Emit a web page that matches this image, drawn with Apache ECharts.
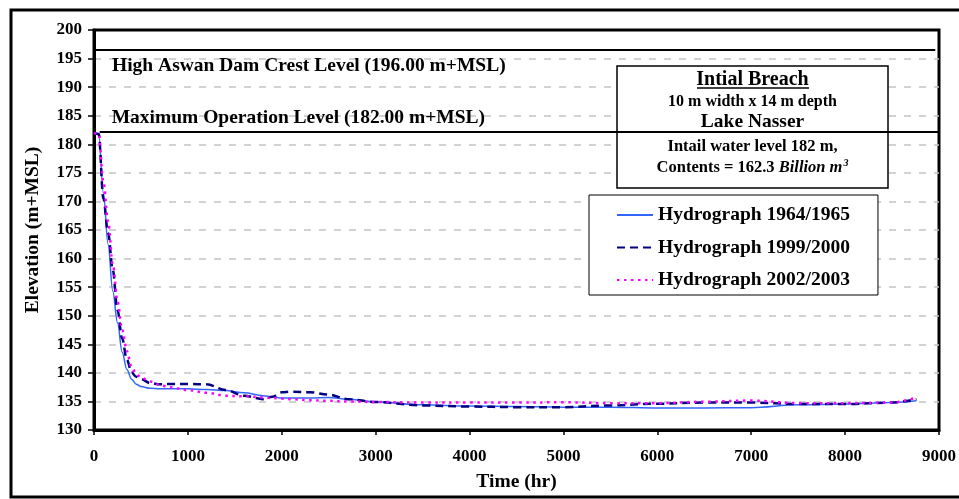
<!DOCTYPE html>
<html>
<head>
    <meta charset="utf-8">
    <script src="https://cdn.jsdelivr.net/npm/echarts@6/dist/echarts.min.js"></script>
    <style>
        html, body { margin: 0; padding: 0; background: #fff; }
    </style>
</head>
<body>
    <div id="chart" style="width: 959px;height:499px;"></div>
    <script type="text/javascript">
        // time axis (hr), shared by the three hydrographs
        var hours = [0, 50, 100, 150, 200, 250, 300, 350, 400, 450, 500, 600, 700, 800, 1000, 1200, 1400, 1600, 1800, 1900, 2000, 2100, 2300, 2500, 2700, 3000, 3500, 4000, 4500, 5000, 5500, 6000, 6500, 7000, 7500, 8000, 8500, 8760];
        var elev6465 = [182, 181.8, 171.5, 162.5, 154.3, 148.8, 143.6, 140.6, 138.9, 138.0, 137.6, 137.3, 137.2, 137.2, 137.2, 137.1, 136.9, 136.5, 136.0, 135.8, 135.6, 135.6, 135.6, 135.7, 135.4, 134.9, 134.4, 134.2, 134.1, 134.0, 134.0, 133.85, 133.85, 133.9, 134.4, 134.55, 134.8, 135.1];
        var elev9900 = [182, 181.8, 170.5, 164.5, 158.0, 151.0, 146.0, 142.3, 140.1, 139.3, 138.9, 138.2, 138.0, 138.05, 138.05, 138.0, 137.0, 136.0, 135.4, 135.8, 136.6, 136.7, 136.6, 136.2, 135.4, 134.9, 134.3, 134.1, 134.0, 134.0, 134.3, 134.6, 134.8, 134.8, 134.55, 134.55, 134.8, 135.4];
        var elev0203 = [182, 181.8, 173.5, 166.5, 159.0, 152.5, 147.5, 143.8, 141.0, 139.8, 139.2, 138.5, 137.9, 137.5, 137.0, 136.5, 136.0, 135.9, 135.7, 135.6, 135.5, 135.4, 135.2, 135.1, 135.0, 134.9, 134.8, 134.8, 134.8, 134.85, 134.7, 134.7, 134.95, 135.15, 134.7, 134.7, 134.8, 135.7];
        var seriesNames = ['Hydrograph 1964/1965', 'Hydrograph 1999/2000', 'Hydrograph 2002/2003'];
        var crestLevel = 196.5;
        var operationLevel = 182.2;

        var FONT = '"Liberation Serif", "Times New Roman", serif';

        function pairs(vals) {
            var out = [];
            for (var i = 0; i < hours.length; i++) {
                out.push([hours[i], vals[i]]);
            }
            return out;
        }

        var refLabel = { show: true, fontFamily: FONT, fontWeight: 'bold', fontSize: 19.5, color: '#000' };

        var myChart = echarts.init(document.getElementById('chart'));
        var option = {
            animation: false,
            backgroundColor: '#fff',
            grid: {
                left: 94, right: 19, top: 30, bottom: 69,
                show: true, borderColor: '#000', borderWidth: 3, backgroundColor: 'transparent'
            },
            legend: {
                orient: 'vertical',
                left: 589, top: 195,
                padding: [10, 28, 5, 27],
                itemGap: 12.5,
                itemWidth: 36, itemHeight: 14,
                backgroundColor: '#fff',
                borderColor: '#000', borderWidth: 1,
                // only the line sample, no marker in the middle
                itemStyle: { color: 'transparent', borderColor: 'transparent', borderWidth: 0 },
                textStyle: { fontFamily: FONT, fontWeight: 'bold', fontSize: 19.5, color: '#000', lineHeight: 20 },
                data: seriesNames
            },
            xAxis: {
                type: 'value', min: 0, max: 9000, interval: 1000,
                name: 'Time (hr)', nameLocation: 'middle', nameGap: 42,
                nameTextStyle: { fontFamily: FONT, fontWeight: 'bold', fontSize: 19.5, color: '#000' },
                axisLine: { show: true, lineStyle: { color: '#000', width: 3 } },
                axisTick: { show: true, length: 5, lineStyle: { color: '#000', width: 1.5 } },
                axisLabel: {
                    fontFamily: FONT, fontWeight: 'bold', fontSize: 17, color: '#000', margin: 18,
                    formatter: function (v) { return String(v); }
                },
                splitLine: { show: false }
            },
            yAxis: {
                type: 'value', min: 130, max: 200, interval: 5,
                name: 'Elevation (m+MSL)', nameLocation: 'middle', nameGap: 51, nameRotate: 90,
                nameTextStyle: { fontFamily: FONT, fontWeight: 'bold', fontSize: 19.5, color: '#000' },
                axisLine: { show: true, lineStyle: { color: '#000', width: 3 } },
                axisTick: { show: true, length: 6, lineStyle: { color: '#000', width: 1.5 } },
                axisLabel: { fontFamily: FONT, fontWeight: 'bold', fontSize: 17, color: '#000', margin: 12 },
                splitLine: { show: true, showMinLine: false, showMaxLine: false, lineStyle: { color: '#c4c4c4', width: 1.5, type: [7, 8] } }
            },
            series: [
                {
                    name: seriesNames[0], type: 'line', data: pairs(elev6465),
                    symbol: 'none', smooth: 0.35, smoothMonotone: 'x',
                    lineStyle: { color: '#3366ff', width: 1.5 },
                    itemStyle: { color: '#3366ff' },
                    markLine: {
                        silent: true, symbol: 'none', animation: false,
                        lineStyle: { color: '#000', width: 2, type: 'solid' },
                        label: refLabel,
                        data: [
                            [
                                { coord: [0, crestLevel], label: Object.assign({}, refLabel, { position: 'insideStartBottom', distance: [18, 6], formatter: 'High Aswan Dam Crest Level (196.00 m+MSL)' }) },
                                { coord: [8960, crestLevel] }
                            ],
                            [
                                { coord: [60, operationLevel], label: Object.assign({}, refLabel, { position: 'insideStartTop', distance: [12, 4], formatter: 'Maximum Operation Level (182.00 m+MSL)' }) },
                                { coord: [9000, operationLevel] }
                            ]
                        ]
                    }
                },
                {
                    name: seriesNames[1], type: 'line', data: pairs(elev9900),
                    symbol: 'none', smooth: 0.35, smoothMonotone: 'x',
                    lineStyle: { color: '#000080', width: 2.5, type: [8, 5] },
                    itemStyle: { color: '#000080' }
                },
                {
                    name: seriesNames[2], type: 'line', data: pairs(elev0203),
                    symbol: 'none', smooth: 0.35, smoothMonotone: 'x',
                    lineStyle: { color: '#ff00ff', width: 2.5, type: [2.5, 4.5] },
                    itemStyle: { color: '#ff00ff' }
                }
            ],
            graphic: [
                // outer frame of the chart
                { type: 'rect', z: 0, shape: { x: 11, y: 10, width: 960, height: 487 }, style: { fill: 'none', stroke: '#000', lineWidth: 3 } },
                // annotation box
                { type: 'rect', z: 1, shape: { x: 617, y: 66, width: 271, height: 122 }, style: { fill: '#fff', stroke: '#000', lineWidth: 1.5 } },
                { type: 'text', z: 3, x: 752.5, y: 80, style: { text: 'Intial Breach', font: 'bold 20px ' + FONT, fill: '#000', align: 'center', verticalAlign: 'middle' } },
                { type: 'line', z: 3, shape: { x1: 697, y1: 88, x2: 809, y2: 88 }, style: { stroke: '#000', lineWidth: 1.5 } },
                { type: 'text', z: 3, x: 752.5, y: 102, style: { text: '10 m width x 14 m depth', font: 'bold 16px ' + FONT, fill: '#000', align: 'center', verticalAlign: 'middle' } },
                { type: 'text', z: 3, x: 752.5, y: 122, style: { text: 'Lake Nasser', font: 'bold 19.5px ' + FONT, fill: '#000', align: 'center', verticalAlign: 'middle' } },
                { type: 'text', z: 3, x: 752.5, y: 147, style: { text: 'Intail water level 182 m,', font: 'bold 16.5px ' + FONT, fill: '#000', align: 'center', verticalAlign: 'middle' } },
                {
                    type: 'text', z: 3, x: 752.5, y: 168,
                    style: {
                        text: '{a|Contents = 162.3 }{b|Billion m}{c|3}',
                        align: 'center', verticalAlign: 'middle',
                        rich: {
                            a: { fontFamily: FONT, fontWeight: 'bold', fontSize: 16.5, color: '#000' },
                            b: { fontFamily: FONT, fontWeight: 'bold', fontStyle: 'italic', fontSize: 16.5, color: '#000' },
                            c: { fontFamily: FONT, fontWeight: 'bold', fontStyle: 'italic', fontSize: 10, color: '#000', padding: [0, 0, 10, 1] }
                        }
                    }
                }
            ]
        };
        myChart.setOption(option);
    </script>
</body>
</html>
